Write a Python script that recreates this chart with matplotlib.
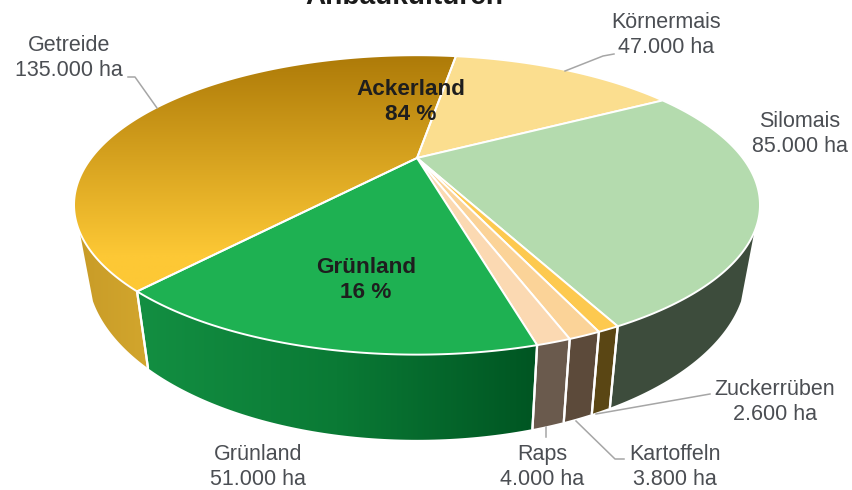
import numpy as np
import matplotlib
matplotlib.use("Agg")
import matplotlib.pyplot as plt
from matplotlib.patches import Polygon
from matplotlib.colors import LinearSegmentedColormap as LSC

plt.rcParams['font.family'] = ['Liberation Sans', 'DejaVu Sans']

# --- data (clockwise from the top of the pie) ---
categories = ["Körnermais", "Silomais", "Zuckerrüben", "Kartoffeln", "Raps", "Grünland", "Getreide"]
hectares = [47000, 85000, 2600, 3800, 4000, 51000, 135000]
group_names = ["Ackerland", "Grünland"]
group_shares = [84, 16]
title_text = "Anbaukulturen"

# --- styles ---
top_colors = ["#fbde8f", "#b4dbae", "#fdc94f", "#fbd398", "#fbd9b2", "#1eb152", None]
side_colors = ["#8a7a40", "#3d4c3c", "#5a4614", "#5c4a3a", "#6a5a4d", None, "#cfa52f"]
start_angle = 81.0
wall_range = (-152.0, -28.0)
W, H = 853, 490

def top_ring(t):
    x, y = np.cos(t), np.sin(t)
    d = 1 + 0.3134 * y
    return 417 + 325.7 * x / d, 158 - 135.0 * y / d

def bottom_ring(t):
    x, y = np.cos(t), np.sin(t)
    d = 1 + 0.3134 * y
    return 417 + 313 * x / d, 217 - 153.0 * y / d

fig = plt.figure(figsize=(W / 100, H / 100), dpi=100, facecolor="white")
ax = fig.add_axes([0, 0, 1, 1])
ax.set_xlim(0, W)
ax.set_ylim(H, 0)
ax.axis("off")

def gradient(poly, colors, vertical, zorder):
    xs, ys = poly[:, 0], poly[:, 1]
    ext = (xs.min(), xs.max(), ys.max(), ys.min())
    g = np.linspace(0, 1, 256)
    arr = g[:, None] if vertical else g[None, :]
    im = ax.imshow(arr, cmap=LSC.from_list("g", colors), extent=ext, vmin=0, vmax=1,
                   aspect="auto", zorder=zorder, interpolation="bilinear", origin="upper")
    patch = Polygon(poly, closed=True, transform=ax.transData, fc="none", ec="none")
    ax.add_patch(patch)
    im.set_clip_path(patch)

hectares_arr = np.array(hectares, float)
sweep = hectares_arr / hectares_arr.sum() * 2 * np.pi
edges = np.deg2rad(start_angle) - np.concatenate([[0], np.cumsum(sweep)])
WL = dict(color="white", lw=1.6, solid_capstyle="round", solid_joinstyle="round")
wall_lo, wall_hi = np.deg2rad(wall_range)

# side walls (visible front part only)
for i, cat in enumerate(categories):
    a, b = edges[i + 1], edges[i]
    lo, hi = max(a, wall_lo), min(b, wall_hi)
    if lo >= hi:
        continue
    ts = np.linspace(lo, hi, 80)
    tx, ty = top_ring(ts)
    bx, by = bottom_ring(ts)
    poly = np.column_stack([np.r_[tx, bx[::-1]], np.r_[ty, by[::-1]]])
    if cat == "Grünland":
        gradient(poly, ["#138f42", "#0a7a35", "#005522"], False, 2)
    elif cat == "Getreide":
        gradient(poly, ["#c99c28", "#d2a62d"], False, 2)
    else:
        ax.add_patch(Polygon(poly, closed=True, fc=side_colors[i], ec="none", zorder=2))
    for e in (a, b):
        if wall_lo < e < wall_hi:
            px, py = top_ring(e), bottom_ring(e)
            ax.plot([px[0], py[0]], [px[1], py[1]], zorder=3, **WL)

# top faces
for i, cat in enumerate(categories):
    ts = np.linspace(edges[i], edges[i + 1], 160)
    tx, ty = top_ring(ts)
    poly = np.column_stack([np.r_[417, tx], np.r_[158, ty]])
    if cat == "Getreide":
        gradient(poly, [(0, "#ad7a08"), (0.85, "#fdc835"), (1, "#fdc835")], True, 4)
        ax.add_patch(Polygon(poly, closed=True, fc="none", ec="white", lw=1.4, zorder=5, joinstyle="round"))
    else:
        ax.add_patch(Polygon(poly, closed=True, fc=top_colors[i], ec="white", lw=1.4, zorder=5, joinstyle="round"))

# labels
label_xy = [(666, 35), (800, 134), (775, 402), (675, 467), (542, 467), (258, 467), (69, 58)]
for cat, v, (x, y) in zip(categories, hectares, label_xy):
    ax.text(x, y, f"{cat}\n{v:,} ha".replace(",", "."), ha="center", va="center", fontsize=15.5,
            color="#4b4e53", linespacing=1.23, zorder=6)

group_xy = [(411, 102), (366, 280)]
for name, share, (x, y) in zip(group_names, group_shares, group_xy):
    ax.text(x, y, f"{name}\n{share} %", ha="center", va="center", fontsize=16.2, fontweight="bold",
            color="#1e1e1e", linespacing=1.27, zorder=6)

ax.text(404, 4, title_text, ha="center", va="baseline", fontsize=20.2, fontweight="bold",
        color="#1a1a1a", zorder=6)

# leader lines
leaders = [
    [(128, 77), (135, 77), (157, 108)],
    [(614, 54), (603, 56), (565, 71)],
    [(710, 394), (596, 414)],
    [(624, 459), (615, 459), (576, 421)],
    [(546, 427), (546, 437)],
]
for line in leaders:
    xs, ys = zip(*line)
    ax.plot(xs, ys, color="#a6a6a6", lw=1.1, zorder=6)

ax.set_xlim(0, W)
ax.set_ylim(H, 0)
fig.savefig("out.png", dpi=100, facecolor="white")
